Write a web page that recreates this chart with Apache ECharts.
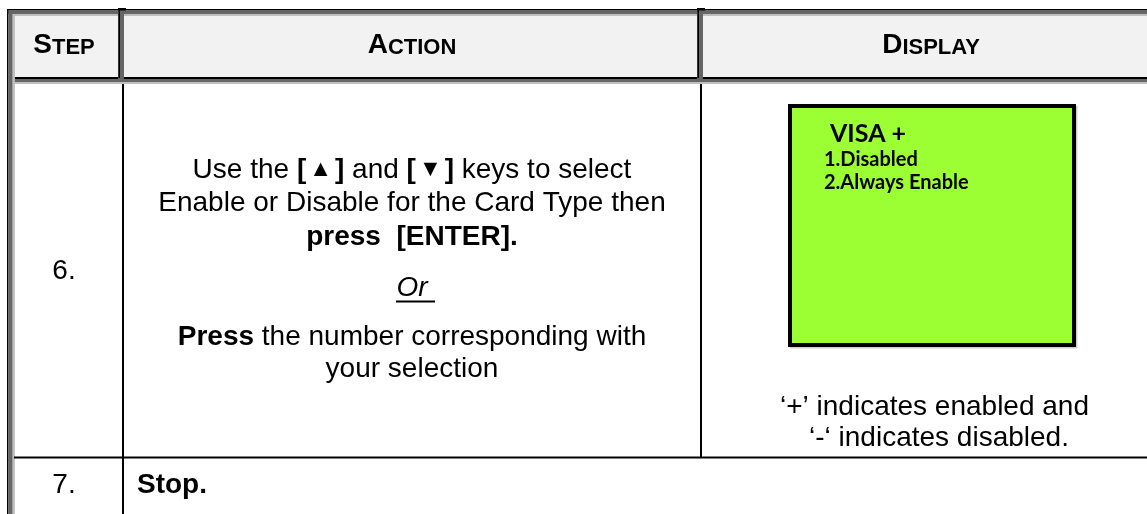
<!DOCTYPE html>
<html>
<head>
<meta charset="utf-8">
<script src="https://cdn.jsdelivr.net/npm/echarts@6/dist/echarts.min.js"></script>
<style>
html,body{margin:0;padding:0;background:#fff;}
#main{width:1147px;height:514px;}
</style>
</head>
<body>
<div id="main"></div>
<script>
// ---- content ----
const headers = [['S', 'TEP'], ['A', 'CTION'], ['D', 'ISPLAY']];
const stepLabels = ['6.', '7.'];
// each line: list of [text, style]  (n normal, b bold, t triangle, i italic)
const actionStep6 = [
  [['Use the ', 'n'], ['[', 'b'], ['▲', 't'], [']', 'b'], [' and ', 'n'], ['[', 'b'], ['▼', 't'], [']', 'b'], [' keys to select', 'n']],
  [['Enable or Disable for the Card Type then', 'n']],
  [['press  [ENTER].', 'b']],
  [['Or', 'i']],
  [['Press', 'b'], [' the number corresponding with', 'n']],
  [['your selection', 'n']]
];
const lcdTitle = 'VISA +';
const lcdOptions = ['1.Disabled', '2.Always Enable'];
const displayNote = ['‘+’ indicates enabled and', '‘-‘ indicates disabled.'];
const actionStep7 = 'Stop.';

// ---- layout ----
const W = 1147, H = 514;
const FONT = '"Liberation Sans", Arial, sans-serif';
const LCD_FONT = 'Lato, "Noto Sans", sans-serif';
const colCenters = [64, 412, 931];
const actionMids = [170, 203, 237, 288, 337, 369];

const els = [];
function rect(x, y, w, h, fill) {
  els.push({ type: 'rect', silent: true, shape: { x, y, width: w, height: h }, style: { fill } });
}
function text(x, y, str, opts) {
  els.push({
    type: 'text', silent: true, x, y,
    style: Object.assign({
      text: str, fill: '#000', fontFamily: FONT, fontSize: 28,
      align: 'center', verticalAlign: 'middle'
    }, opts)
  });
}

// header fill and borders
rect(14, 16, W, 61, '#f2f2f2');
rect(7, 9, W, 1, '#000');
rect(8, 10, W, 4, '#666');
rect(13, 14, W, 2, '#bfbfbf');
rect(13, 77, W, 2, '#000');
rect(13, 79, W, 3, '#666');
rect(13, 82, W, 2, '#bfbfbf');
// left border
rect(7, 9, 1.5, H, '#000');
rect(8.5, 10, 4.2, H, '#666');
rect(12.7, 14, 2.2, H, '#bfbfbf');
// header column dividers
[118, 697].forEach(x => {
  rect(x, 10, 6, 70, '#666');
  rect(x + 0.5, 10, 1.5, 68, '#000');
  rect(x, 8, 8, 2.5, '#000');
});
// body dividers
rect(122, 84, 2, H, '#000');
rect(700, 84, 2, 457 - 84, '#000');
rect(14, 456.5, W, 2, '#000');

// header texts (small caps)
const hdrRich = {
  c: { fontFamily: FONT, fontSize: 28, fontWeight: 'bold', fill: '#000', verticalAlign: 'bottom' },
  s: { fontFamily: FONT, fontSize: 22, fontWeight: 'bold', fill: '#000', verticalAlign: 'bottom' }
};
headers.forEach((h, i) => {
  text(colCenters[i], 45, '{c|' + h[0] + '}{s|' + h[1] + '}', { rich: hdrRich });
});

// steps
text(colCenters[0], 271, stepLabels[0]);
text(colCenters[0], 485, stepLabels[1]);

// action for step 6
const actRich = {
  n: { fontFamily: FONT, fontSize: 28, fill: '#000' },
  b: { fontFamily: FONT, fontSize: 28, fontWeight: 'bold', fill: '#000' },
  t: { fontFamily: FONT, fontSize: 23, fill: '#000', padding: [0, 3, 0, 3] },
  i: { fontFamily: FONT, fontSize: 28, fontStyle: 'italic', fill: '#000' }
};
actionStep6.forEach((segs, li) => {
  const str = segs.map(s => '{' + s[1] + '|' + s[0] + '}').join('');
  text(colCenters[1], actionMids[li], str, { rich: actRich });
  if (segs.length === 1 && segs[0][1] === 'i') {
    // underline
    els.push({ type: 'line', silent: true,
      shape: { x1: colCenters[1] - 16, y1: actionMids[li] + 13.5, x2: colCenters[1] + 23, y2: actionMids[li] + 13.5 },
      style: { stroke: '#000', lineWidth: 2 } });
  }
});

// step 7 action
text(137, 485, actionStep7, { align: 'left', fontWeight: 'bold' });

// LCD display
els.push({ type: 'rect', silent: true, shape: { x: 790, y: 106, width: 284, height: 239 },
  style: { fill: '#9cff33', stroke: '#000', lineWidth: 4 } });
rect(1076, 106, 1.5, 242, '#cfcfcf');
rect(790, 347, 287, 1.5, '#cfcfcf');
text(830, 134, lcdTitle, { align: 'left', fontFamily: LCD_FONT, fontSize: 25, fontWeight: 'bold' });
lcdOptions.forEach((o, i) => {
  text(824, 160 + i * 23, o, { align: 'left', fontFamily: LCD_FONT, fontSize: 20, fontWeight: 'bold' });
});

// display note
text(780, 407, displayNote[0], { align: 'left' });
text(809, 438, displayNote[1], { align: 'left' });

const chart = echarts.init(document.getElementById('main'), null, { renderer: 'canvas' });
chart.setOption({
  backgroundColor: '#ffffff',
  animation: false,
  graphic: { elements: els }
});
</script>
</body>
</html>
